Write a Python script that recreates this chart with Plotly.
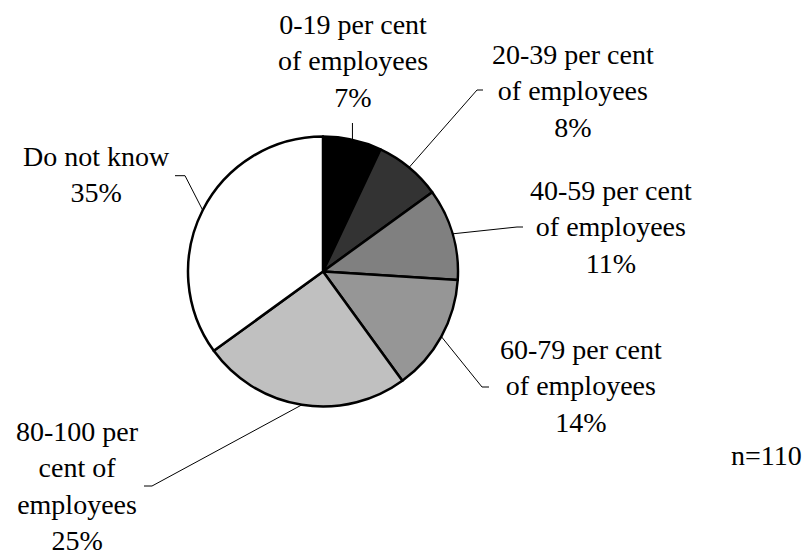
import math
import plotly.graph_objects as go

# Share of employees covered, by answer category
categories = [
    "0-19 per cent of employees",
    "20-39 per cent of employees",
    "40-59 per cent of employees",
    "60-79 per cent of employees",
    "80-100 per cent of employees",
    "Do not know",
]
label_lines = [
    ["0-19 per cent", "of employees"],
    ["20-39 per cent", "of employees"],
    ["40-59 per cent", "of employees"],
    ["60-79 per cent", "of employees"],
    ["80-100 per", "cent of", "employees"],
    ["Do not know"],
]
values = [7, 8, 11, 14, 25, 35]
sample_note = "n=110"

colors = ["#000000", "#333333", "#808080", "#969696", "#c0c0c0", "#ffffff"]

W, H = 807, 556
FONT = "Liberation Serif, Times New Roman, serif"
FS = 28

# pie placement (pixels from top-left)
cx, cy, r = 323, 271.5, 135

# label block centres and leader-line elbows (pixels from top-left)
label_pos = [(352.5, 61), (573, 91), (611, 227), (581, 386), (77, 486), (96, 174)]
elbows = [
    [(None, 123)],
    [(477, 90), (483, 90)],
    [(517, 227), (523, 227)],
    [(482, 387), (489, 387)],
    [(152, 486), (144, 486)],
    [(185, 175.7), (175, 175.7)],
]


def px(x):
    return x / W


def py(y):
    return 1 - y / H


def serif(s):
    return f"<span style='font-family:Liberation Serif,Times New Roman,serif'>{s}</span>"


fig = go.Figure()
fig.add_trace(go.Pie(
    labels=categories,
    values=values,
    sort=False,
    direction="clockwise",
    rotation=0,
    marker=dict(colors=colors, line=dict(color="#000000", width=2.5)),
    textinfo="none",
    hoverinfo="label+percent",
    showlegend=False,
    domain=dict(x=[px(cx - r), px(cx + r)], y=[py(cy + r), py(cy - r)]),
))

total = sum(values)
shapes = []
annotations = []
cum = 0
for i, v in enumerate(values):
    # leader line starts on the rim at the middle of the slice
    mid = (cum + v / 2) / total * 2 * math.pi
    cum += v
    sx = cx + r * math.sin(mid)
    sy = cy - r * math.cos(mid)
    pts = [(sx, sy)]
    for ex, ey in elbows[i]:
        pts.append((sx if ex is None else ex, ey))
    for (x0, y0), (x1, y1) in zip(pts[:-1], pts[1:]):
        shapes.append(dict(type="line", xref="paper", yref="paper",
                           x0=px(x0), y0=py(y0), x1=px(x1), y1=py(y1),
                           line=dict(color="#000000", width=1)))
    lx, ly = label_pos[i]
    text = "<br>".join(serif(s) for s in label_lines[i] + [f"{v}%"])
    annotations.append(dict(x=px(lx), y=py(ly), xref="paper", yref="paper", text=text,
                            showarrow=False, xanchor="center", yanchor="middle", align="center",
                            font=dict(family=FONT, size=FS, color="#000000")))

annotations.append(dict(x=px(766.7), y=py(455.5), xref="paper", yref="paper", text=serif(sample_note),
                        showarrow=False, xanchor="center", yanchor="middle",
                        font=dict(family=FONT, size=FS, color="#000000")))

fig.update_layout(
    width=W, height=H,
    margin=dict(l=0, r=0, t=0, b=0),
    paper_bgcolor="#ffffff",
    font=dict(family=FONT, color="#000000"),
    shapes=shapes,
    annotations=annotations,
)

fig.write_html("out.html")
